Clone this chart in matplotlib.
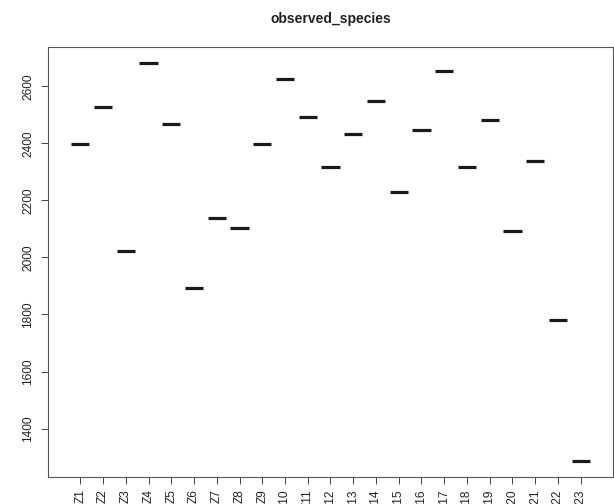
import matplotlib
matplotlib.use("Agg")
import matplotlib.pyplot as plt

plt.rcParams['font.family'] = ['Liberation Sans', 'DejaVu Sans']

# one observed_species value per sample
samples = ['Z%d' % i for i in range(1, 24)]
observed = [2397, 2527, 2024, 2682, 2468, 1893, 2139, 2104, 2396, 2624, 2494, 2318,
            2433, 2548, 2230, 2448, 2655, 2316, 2481, 2091, 2337, 1782, 1286]
yticks = [1400, 1600, 1800, 2000, 2200, 2400, 2600]

fig = plt.figure(figsize=(6.14, 5.04), dpi=100)
ax = fig.add_axes([48 / 614, 27 / 504, 565 / 614, 430 / 504])

pos = list(range(1, len(samples) + 1))
# R boxplot with one value per group -> only the median bar shows
ax.hlines(observed, [p - 0.4 for p in pos], [p + 0.4 for p in pos],
          colors='#1a1a1a', linewidth=2.3, capstyle='butt')

n = len(samples)
ax.set_xlim(0.5 - 0.04 * n, n + 0.5 + 0.04 * n)
lo, hi = min(observed), max(observed)
ext = (hi - lo) * 0.04
ax.set_ylim(lo - ext, hi + ext)

ax.set_xticks(pos)
ax.set_xticklabels(samples, rotation=90, fontsize=8.6, va='top')
ax.set_yticks(yticks)
ax.set_yticklabels([str(v) for v in yticks], rotation=90, fontsize=8.6, va='center')
ax.tick_params(axis='both', length=5, width=0.7, color='#444444', labelcolor='#222222')
ax.tick_params(axis='x', pad=4)
ax.tick_params(axis='y', pad=5)

for sp in ax.spines.values():
    sp.set_color('#555555')
    sp.set_linewidth(0.8)

ax.set_title('observed_species', fontsize=10, fontweight='bold', color='#222222', pad=17)

fig.savefig('out.png', dpi=100)
